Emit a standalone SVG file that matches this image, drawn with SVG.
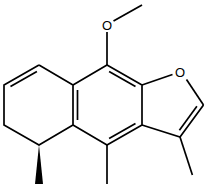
<svg xmlns="http://www.w3.org/2000/svg" width="208" height="188" viewBox="0 0 208 188">
<style>
.b{stroke:#000;stroke-width:1.7;fill:none;stroke-linecap:butt}
.t{font-family:"Liberation Sans",Arial,sans-serif;font-size:13px;fill:#000;text-anchor:middle}
</style>
<rect width="208" height="188" fill="#fff"/>
<g id="bonds">
<path class="b" d="M39,65 L4,85 L4,125 L39,145 L73,125 L73,85 L39,65"/>
<path class="b" d="M73,85 L107,65 L142,85 L142,125 L107,145 L73,125"/>
<path class="b" d="M142,125 L180,137 L203.5,105"/>
<path class="b" d="M142,85 L172.5,74.5"/>
<path class="b" d="M186.5,79.5 L203.5,105"/>
<path class="b" d="M107,65 L107,32"/>
<path class="b" d="M113.5,21 L142,5"/>
<path class="b" d="M107,145 L107,184"/>
<path class="b" d="M180,137 L192.4,175"/>
<path class="b" d="M36.9,71.4 L10.5,86.4"/>
<path class="b" d="M77.5,90 L77.5,120"/>
<path class="b" d="M109.1,71.4 L135.5,86.4"/>
<path class="b" d="M109.1,138.6 L135.5,123.6"/>
<path class="b" d="M179.4,130.3 L196.9,106.3"/>
<polygon points="39,145 35,184 43,184" fill="#000"/>
</g>
<g id="O1"><text class="t" x="107" y="29.7">O</text></g>
<g id="O2"><text class="t" x="180" y="76.7">O</text></g>
</svg>
